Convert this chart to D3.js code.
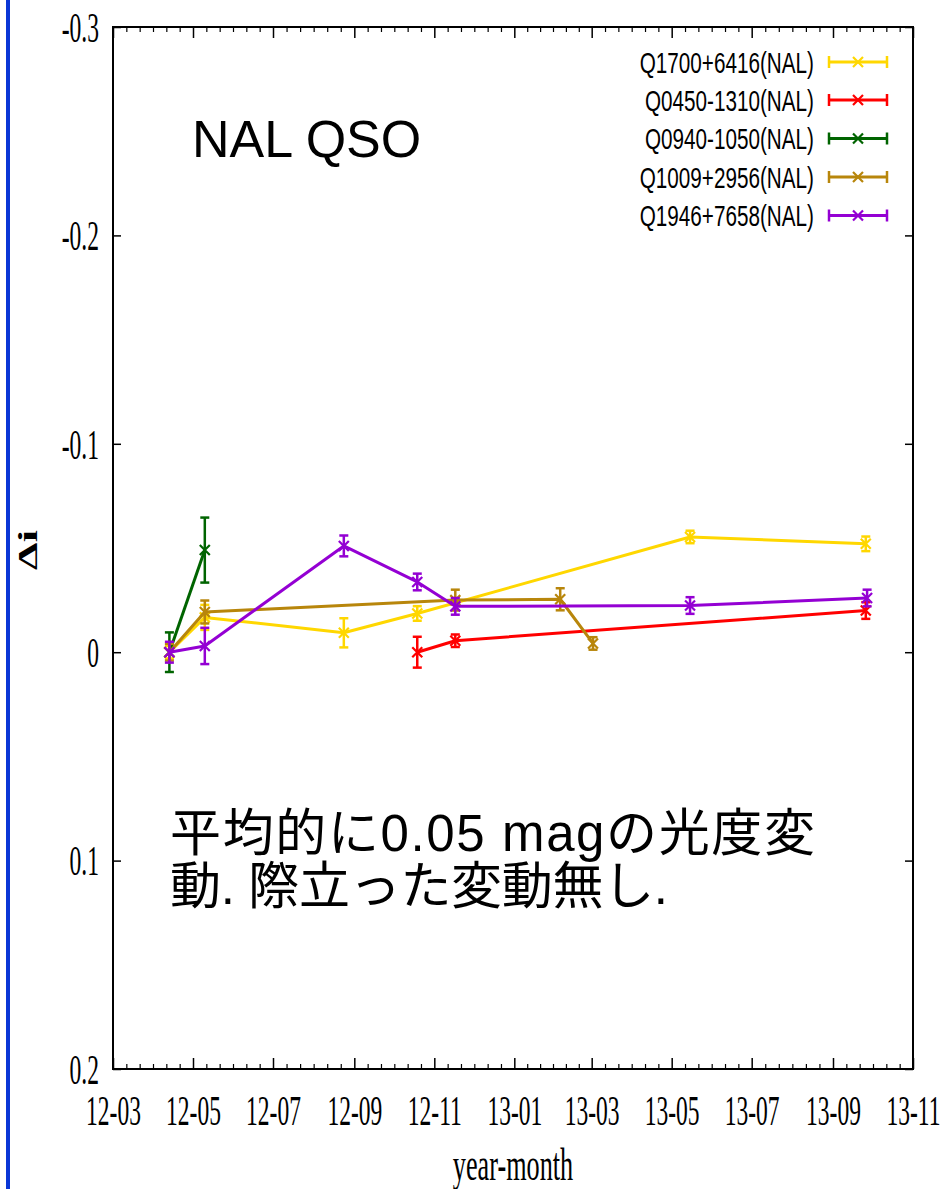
<!DOCTYPE html>
<html>
<head>
<meta charset="utf-8">
<script src="https://cdn.jsdelivr.net/npm/d3@7"></script>
<style>
  html, body { margin: 0; padding: 0; background: #fff; }
  svg { display: block; }
</style>
</head>
<body>
<svg id="chart" width="945" height="1189"></svg>
<script>
// ---------------- data ----------------
const seriesNames = ["Q1700+6416(NAL)", "Q0450-1310(NAL)", "Q0940-1050(NAL)", "Q1009+2956(NAL)", "Q1946+7658(NAL)"];
const seriesColors = ["#ffd700", "#ff0000", "#006400", "#b8860b", "#9400d3"];

const q1700Dates  = ["2012-04-13", "2012-05-10", "2012-08-24", "2012-10-19", "2013-05-15", "2013-09-26"];
const q1700Values = [0, -0.0167, -0.0093, -0.0186, -0.0553, -0.052];
const q1700Errors = [0.003, 0.006, 0.007, 0.0035, 0.003, 0.0035];

const q0450Dates  = ["2012-10-19", "2012-11-17", "2013-09-26"];
const q0450Values = [0, -0.0055, -0.020];
const q0450Errors = [0.0074, 0.003, 0.004];

const q0940Dates  = ["2012-04-13", "2012-05-10"];
const q0940Values = [0, -0.049];
const q0940Errors = [0.0095, 0.0156];

const q1009Dates  = ["2012-04-13", "2012-05-10", "2012-11-17", "2013-02-05", "2013-03-02"];
const q1009Values = [0, -0.0193, -0.025, -0.0254, -0.0042];
const q1009Errors = [0.004, 0.0055, 0.005, 0.0053, 0.003];

const q1946Dates  = ["2012-04-13", "2012-05-10", "2012-08-24", "2012-10-19", "2012-11-17", "2013-05-15", "2013-09-27"];
const q1946Values = [0, -0.003, -0.051, -0.0337, -0.022, -0.0224, -0.026];
const q1946Errors = [0.005, 0.0087, 0.005, 0.004, 0.004, 0.004, 0.004];

const yTickValues = [-0.3, -0.2, -0.1, 0, 0.1, 0.2];
const yTickLabels = ["-0.3", "-0.2", "-0.1", "0", "0.1", "0.2"];
const xTickDates = ["2012-03-01", "2012-05-01", "2012-07-01", "2012-09-01", "2012-11-01", "2013-01-01",
                    "2013-03-01", "2013-05-01", "2013-07-01", "2013-09-01", "2013-11-01"];
const xTickLabels = ["12-03", "12-05", "12-07", "12-09", "12-11", "13-01", "13-03", "13-05", "13-07", "13-09", "13-11"];

const titleText = "NAL QSO";
const noteLines = ["平均的に0.05 magの光度変", "動. 際立った変動無し."];
const xLabel = "year-month";
const yLabel = "Δi";

// ---------------- layout ----------------
const parse = d3.utcParse("%Y-%m-%d");
const svg = d3.select("#chart");
const L = 113, R = 913, T = 27, B = 1069;
const squeeze = 0.56;

svg.append("rect").attr("x", 0).attr("y", 0).attr("width", 945).attr("height", 1189).attr("fill", "#fff");
// blue slide edge
svg.append("rect").attr("x", 6).attr("y", 0).attr("width", 4).attr("height", 1189).attr("fill", "#0a36d6");

const x = d3.scaleUtc().domain([parse(xTickDates[0]), parse(xTickDates[xTickDates.length - 1])]).range([L, R]);
const y = d3.scaleLinear().domain([-0.3, 0.2]).range([T, B]);

const majorDates = xTickDates.map(parse);
const minorDates = [];
for (let i = 0; i < majorDates.length - 1; i++) {
  const a = +majorDates[i], b = +majorDates[i + 1];
  for (let k = 1; k < 6; k++) minorDates.push(new Date(a + (b - a) * k / 6));
}

const serifFont = "'Liberation Serif', 'Times New Roman', serif";

// bottom axis
const gB = svg.append("g").attr("transform", `translate(0,${B})`)
  .call(d3.axisBottom(x).tickValues(majorDates).tickSize(-11).tickSizeOuter(0)
        .tickFormat((d, i) => xTickLabels[i]));
gB.select(".domain").remove();
gB.selectAll("line").attr("stroke", "#000").attr("stroke-width", 1.5);
gB.selectAll("text").attr("y", 56).attr("dy", null)
  .attr("font-family", serifFont).attr("font-size", 42).attr("fill", "#000")
  .attr("transform", `scale(${squeeze},1)`);
const gBm = svg.append("g").attr("transform", `translate(0,${B})`)
  .call(d3.axisBottom(x).tickValues(minorDates).tickSize(-5).tickSizeOuter(0).tickFormat(""));
gBm.select(".domain").remove();
gBm.selectAll("line").attr("stroke", "#000").attr("stroke-width", 1.2);

// top axis (mirror)
const gT = svg.append("g").attr("transform", `translate(0,${T})`)
  .call(d3.axisTop(x).tickValues(majorDates).tickSize(-11).tickSizeOuter(0).tickFormat(""));
gT.select(".domain").remove();
gT.selectAll("line").attr("stroke", "#000").attr("stroke-width", 1.5);
const gTm = svg.append("g").attr("transform", `translate(0,${T})`)
  .call(d3.axisTop(x).tickValues(minorDates).tickSize(-5).tickSizeOuter(0).tickFormat(""));
gTm.select(".domain").remove();
gTm.selectAll("line").attr("stroke", "#000").attr("stroke-width", 1.2);

// left axis
const gL = svg.append("g").attr("transform", `translate(${L},0)`)
  .call(d3.axisLeft(y).tickValues(yTickValues).tickSize(-8).tickSizeOuter(0)
        .tickFormat((d, i) => yTickLabels[i]));
gL.select(".domain").remove();
gL.selectAll("line").attr("stroke", "#000").attr("stroke-width", 1.5);
gL.selectAll("text").attr("x", null).attr("dy", "0.34em")
  .attr("font-family", serifFont).attr("font-size", 42).attr("fill", "#000")
  .attr("transform", `translate(-14,0) scale(${squeeze},1)`);

// right axis (mirror)
const gR = svg.append("g").attr("transform", `translate(${R},0)`)
  .call(d3.axisRight(y).tickValues(yTickValues).tickSize(-8).tickSizeOuter(0).tickFormat(""));
gR.select(".domain").remove();
gR.selectAll("line").attr("stroke", "#000").attr("stroke-width", 1.5);

// frame
svg.append("rect").attr("x", L).attr("y", T).attr("width", R - L).attr("height", B - T)
  .attr("fill", "none").attr("stroke", "#000").attr("stroke-width", 2);

// axis titles
svg.append("text").attr("transform", `translate(513,1180) scale(0.57,1)`)
  .attr("text-anchor", "middle").attr("font-family", serifFont).attr("font-size", 46).attr("fill", "#000")
  .text(xLabel);
svg.append("text").attr("transform", `translate(37,550) scale(0.6,1) rotate(-90)`)
  .attr("text-anchor", "middle").attr("font-family", serifFont).attr("font-weight", "bold")
  .attr("font-size", 44).attr("fill", "#000").text(yLabel);

// ---------------- series ----------------
const seriesData = [
  { dates: q1700Dates, values: q1700Values, errors: q1700Errors },
  { dates: q0450Dates, values: q0450Values, errors: q0450Errors },
  { dates: q0940Dates, values: q0940Values, errors: q0940Errors },
  { dates: q1009Dates, values: q1009Values, errors: q1009Errors },
  { dates: q1946Dates, values: q1946Values, errors: q1946Errors }
];

const cap = 4.5, mk = 5;
const line = d3.line().x(d => x(d.date)).y(d => y(d.value));

seriesData.forEach((s, si) => {
  const color = seriesColors[si];
  const pts = s.dates.map((d, i) => ({ date: parse(d), value: s.values[i], err: s.errors[i] }));
  const g = svg.append("g");
  g.append("path").attr("d", line(pts)).attr("fill", "none").attr("stroke", color)
    .attr("stroke-width", 3).attr("stroke-linejoin", "round");
  const p = g.selectAll(".pt").data(pts).enter().append("g")
    .attr("transform", d => `translate(${x(d.date)},0)`);
  // error bars
  p.append("line").attr("x1", 0).attr("x2", 0)
    .attr("y1", d => y(d.value - d.err)).attr("y2", d => y(d.value + d.err))
    .attr("stroke", color).attr("stroke-width", 2.5);
  p.append("line").attr("x1", -cap).attr("x2", cap)
    .attr("y1", d => y(d.value - d.err)).attr("y2", d => y(d.value - d.err))
    .attr("stroke", color).attr("stroke-width", 2.5);
  p.append("line").attr("x1", -cap).attr("x2", cap)
    .attr("y1", d => y(d.value + d.err)).attr("y2", d => y(d.value + d.err))
    .attr("stroke", color).attr("stroke-width", 2.5);
  // x markers
  p.append("path")
    .attr("d", d => { const cy = y(d.value); return `M${-mk},${cy - mk}L${mk},${cy + mk}M${-mk},${cy + mk}L${mk},${cy - mk}`; })
    .attr("stroke", color).attr("stroke-width", 2.2).attr("fill", "none");
});

// ---------------- legend ----------------
const legendY = [62, 100, 138.5, 177, 215.5];
const sansFont = "'Liberation Sans', Arial, 'Noto Sans CJK JP', sans-serif";
seriesNames.forEach((name, i) => {
  const cy = legendY[i], color = seriesColors[i];
  const g = svg.append("g");
  g.append("text").attr("transform", `translate(814,${cy}) scale(0.69,1)`)
    .attr("text-anchor", "end").attr("dy", "0.36em")
    .attr("font-family", sansFont).attr("font-size", 30).attr("fill", "#000").text(name);
  g.append("line").attr("x1", 829).attr("x2", 887).attr("y1", cy).attr("y2", cy)
    .attr("stroke", color).attr("stroke-width", 3);
  [829, 887].forEach(xx => g.append("line").attr("x1", xx).attr("x2", xx)
    .attr("y1", cy - 6).attr("y2", cy + 6).attr("stroke", color).attr("stroke-width", 2.5));
  g.append("path").attr("d", `M${858 - mk},${cy - mk}L${858 + mk},${cy + mk}M${858 - mk},${cy + mk}L${858 + mk},${cy - mk}`)
    .attr("stroke", color).attr("stroke-width", 2.2).attr("fill", "none");
});

// ---------------- annotations ----------------
svg.append("text").attr("x", 192).attr("y", 157)
  .attr("font-family", sansFont).attr("font-size", 52).attr("fill", "#000").text(titleText);

const noteWidths = [645, 498];
noteLines.forEach((t, i) => {
  svg.append("text").attr("x", 170).attr("y", 851 + i * 53)
    .attr("font-family", sansFont)
    .attr("font-size", 51).attr("fill", "#000")
    .attr("textLength", noteWidths[i]).attr("lengthAdjust", "spacing")
    .text(t);
});
</script>
</body>
</html>
